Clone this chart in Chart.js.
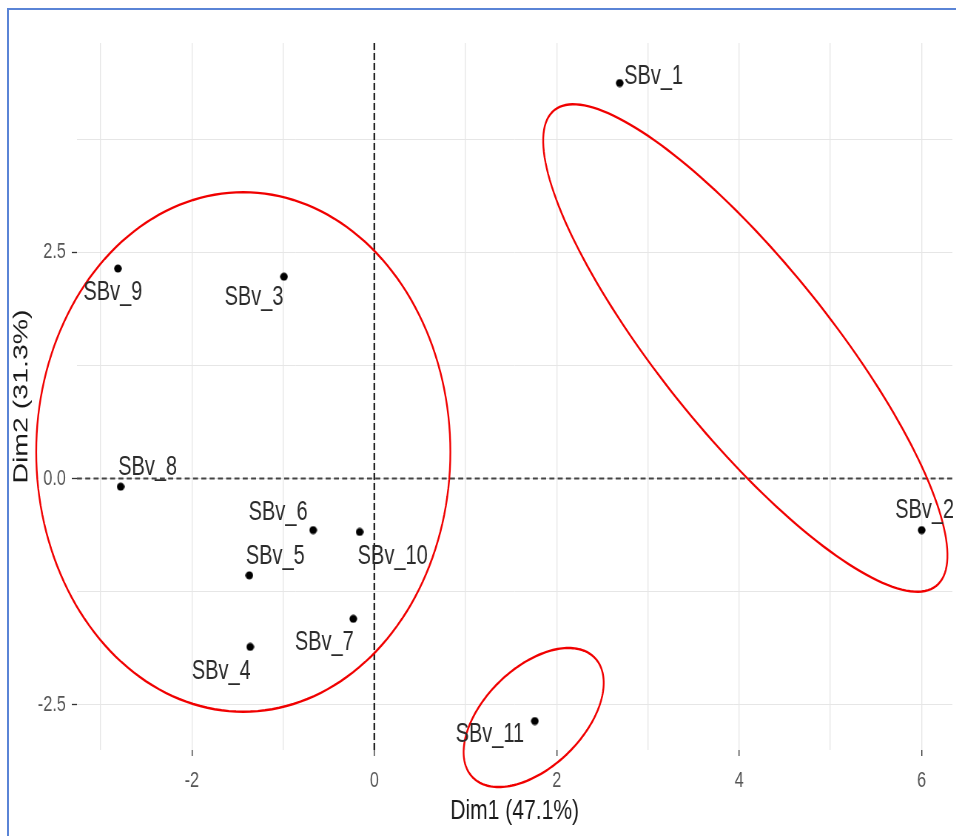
<!DOCTYPE html>
<html>
<head>
<meta charset="utf-8">
<script src="https://cdn.jsdelivr.net/npm/chart.js@4.4.1/dist/chart.umd.min.js"></script>
<style>
  html, body { margin: 0; padding: 0; background: #ffffff; overflow: hidden; }
  #wrap { position: relative; width: 956px; height: 836px; overflow: hidden; background: #ffffff; }
  #c { position: absolute; left: 0; top: 0; transform: scaleX(0.74); transform-origin: 0 0; }
  #frame { position: absolute; left: 7px; top: 8px; width: 2000px; height: 2000px;
           border-left: 2px solid #5a84d6; border-top: 2px solid #5a84d6; pointer-events: none; }
</style>
</head>
<body>
<div id="wrap">
  <canvas id="c" width="1292" height="836"></canvas>
  <div id="frame"></div>
</div>
<script>
// PCA individuals map: coordinates on the first two dimensions
const categories = ['SBv_1', 'SBv_2', 'SBv_3', 'SBv_4', 'SBv_5', 'SBv_6',
                    'SBv_7', 'SBv_8', 'SBv_9', 'SBv_10', 'SBv_11'];
const dim1 = [2.69, 6.00, -0.99, -1.36, -1.37, -0.67, -0.23, -2.78, -2.81, -0.16, 1.76];
const dim2 = [4.37, -0.57, 2.23, -1.86, -1.07, -0.57, -1.55, -0.09, 2.32, -0.59, -2.68];

// axis ticks (major ones carry a label, minor ones only a grid line)
const xTickValues = [-3, -2, -1, 0, 1, 2, 3, 4, 5, 6];
const xTickLabels = ['', '-2', '', '0', '', '2', '', '4', '', '6'];
const yTickValues = [-2.5, -1.25, 0, 1.25, 2.5, 3.75];
const yTickLabels = ['-2.5', '', '0.0', '', '2.5', ''];

// group ellipses in Dim1/Dim2 units: centre, semi-axes, rotation (degrees)
const groupCenterX = [-1.436, 4.067, 1.747];
const groupCenterY = [0.293, 1.442, -2.641];
const groupAxisA = [2.27, 3.36, 0.94];
const groupAxisB = [2.87, 0.934, 0.544];
const groupAngle = [0, -51.5, 45];

// ---------------------------------------------------------------
// canvas is drawn wide and squeezed horizontally by this factor
const SX = 0.74;
const FONT = '"Liberation Sans", Arial, Helvetica, sans-serif';

// label placement next to each point (screen px: dx, dy)
const labelNudge = {
  'SBv_1': [34, -6], 'SBv_2': [3, -20], 'SBv_3': [-30, 21], 'SBv_4': [-29, 25],
  'SBv_5': [26, -19], 'SBv_6': [-35, -18], 'SBv_7': [-29, 24], 'SBv_8': [27, -19],
  'SBv_9': [-5, 24], 'SBv_10': [33, 25], 'SBv_11': [-45, 14]
};

// round dot marker, pre-widened so it stays round after the squeeze
const dot = document.createElement('canvas');
dot.width = 11; dot.height = 9;
(function () {
  const g = dot.getContext('2d');
  g.fillStyle = '#000000';
  g.beginPath();
  g.ellipse(5.5, 4.5, 5.2, 4.0, 0, 0, Math.PI * 2);
  g.fill();
})();

const points = dim1.map((v, i) => ({ x: v, y: dim2[i] }));

const zeroLines = {
  id: 'zeroLines',
  beforeDatasetsDraw(chart) {
    const { ctx, chartArea: a, scales: { x, y } } = chart;
    ctx.save();
    const py = y.getPixelForValue(0);
    ctx.setLineDash([6.8, 4.4]);
    ctx.strokeStyle = '#444444';
    ctx.lineWidth = 2.1;
    ctx.beginPath(); ctx.moveTo(a.left, py); ctx.lineTo(a.right, py); ctx.stroke();
    const px = x.getPixelForValue(0);
    ctx.setLineDash([7, 3]);
    ctx.strokeStyle = '#111111';
    ctx.lineWidth = 1.6 / SX;
    ctx.beginPath(); ctx.moveTo(px, a.top); ctx.lineTo(px, a.bottom); ctx.stroke();
    ctx.restore();
  }
};

const groupEllipses = {
  id: 'groupEllipses',
  beforeDatasetsDraw(chart) {
    const { ctx, scales: { x, y } } = chart;
    ctx.save();
    ctx.strokeStyle = '#f00000';
    ctx.lineWidth = 2.4;
    ctx.setLineDash([]);
    groupCenterX.forEach((cx, k) => {
      const cy = groupCenterY[k], A = groupAxisA[k], B = groupAxisB[k];
      const phi = groupAngle[k] * Math.PI / 180;
      ctx.beginPath();
      for (let s = 0; s <= 180; s++) {
        const t = s / 180 * Math.PI * 2;
        const ex = cx + A * Math.cos(t) * Math.cos(phi) - B * Math.sin(t) * Math.sin(phi);
        const ey = cy + A * Math.cos(t) * Math.sin(phi) + B * Math.sin(t) * Math.cos(phi);
        const px = x.getPixelForValue(ex), py = y.getPixelForValue(ey);
        if (s === 0) ctx.moveTo(px, py); else ctx.lineTo(px, py);
      }
      ctx.closePath();
      ctx.stroke();
    });
    ctx.restore();
  }
};

const pointLabels = {
  id: 'pointLabels',
  afterDatasetsDraw(chart) {
    const { ctx } = chart;
    const meta = chart.getDatasetMeta(0);
    ctx.save();
    ctx.font = '27px ' + FONT;
    ctx.fillStyle = '#2b2b2b';
    ctx.textAlign = 'center';
    ctx.textBaseline = 'middle';
    meta.data.forEach((el, i) => {
      const name = categories[i];
      const [dx, dy] = labelNudge[name];
      ctx.fillText(name, el.x + dx / SX, el.y + dy);
    });
    ctx.restore();
  }
};

new Chart(document.getElementById('c'), {
  type: 'scatter',
  data: {
    labels: categories,
    datasets: [{
      data: points,
      pointStyle: dot,
      pointRadius: 4,
      pointHoverRadius: 4,
      backgroundColor: '#000000',
      borderColor: '#000000'
    }]
  },
  plugins: [zeroLines, groupEllipses, pointLabels],
  options: {
    responsive: false,
    animation: false,
    events: [],
    layout: { padding: { left: 0, right: 0, top: 43, bottom: 0 } },
    plugins: { legend: { display: false }, tooltip: { enabled: false } },
    scales: {
      x: {
        type: 'linear',
        min: -3.259,
        max: 6.337,
        afterBuildTicks(scale) { scale.ticks = xTickValues.map(v => ({ value: v })); },
        afterFit(scale) { scale.height = 86; },
        border: { display: false },
        grid: {
          color: '#e6e6e6',
          lineWidth: 1.35,
          drawTicks: true,
          tickLength: 6,
          tickWidth: 1.4,
          tickColor: (c) => (c.tick && xTickLabels[xTickValues.indexOf(c.tick.value)] !== '') ? '#333333' : 'rgba(0,0,0,0)'
        },
        ticks: {
          padding: 12,
          color: '#555555',
          font: { family: FONT, size: 22 },
          maxRotation: 0,
          autoSkip: false,
          callback: (v) => { const k = xTickValues.indexOf(v); return k >= 0 ? xTickLabels[k] : ''; }
        },
        title: {
          display: true,
          text: 'Dim1 (47.1%)',
          color: '#1a1a1a',
          font: { family: FONT, size: 28.5 },
          padding: { top: 0, bottom: 8 }
        }
      },
      y: {
        type: 'linear',
        min: -3.0,
        max: 4.812,
        afterBuildTicks(scale) { scale.ticks = yTickValues.map(v => ({ value: v })); },
        afterFit(scale) { scale.width = 104; },
        border: { display: false },
        grid: {
          color: '#e6e6e6',
          lineWidth: 1,
          drawTicks: true,
          tickLength: 7,
          tickWidth: 1.3,
          tickColor: (c) => (c.tick && yTickLabels[yTickValues.indexOf(c.tick.value)] !== '') ? '#333333' : 'rgba(0,0,0,0)'
        },
        ticks: {
          padding: 8,
          color: '#555555',
          font: { family: FONT, size: 22 },
          autoSkip: false,
          callback: (v) => { const k = yTickValues.indexOf(v); return k >= 0 ? yTickLabels[k] : ''; }
        },
        title: {
          display: true,
          text: 'Dim2 (31.3%)',
          color: '#1a1a1a',
          font: { family: FONT, size: 28.5 },
          padding: { top: 12, bottom: 0 }
        }
      }
    }
  }
});
</script>
</body>
</html>
